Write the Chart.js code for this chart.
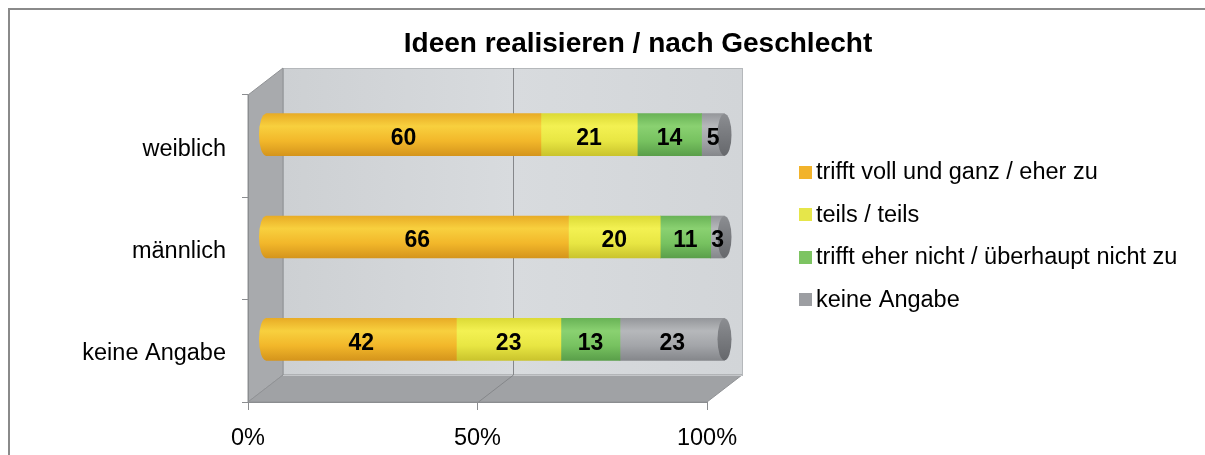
<!DOCTYPE html>
<html>
<head>
<meta charset="utf-8">
<script src="https://cdn.jsdelivr.net/npm/chart.js@4.4.1/dist/chart.umd.min.js"></script>
<style>
html, body { margin: 0; padding: 0; background: #fff; }
#wrap { width: 1205px; height: 455px; }
</style>
</head>
<body>
<div id="wrap"><canvas id="ideen_geschlecht" width="1205" height="455"></canvas></div>
<script>
//(Balken 100%) Ideen realisieren / nach Geschlecht
const chartTitle = 'Ideen realisieren / nach Geschlecht';
const categories = ['weiblich', 'männlich', 'keine Angabe'];
const seriesNames = [
    'trifft voll und ganz / eher zu',
    'teils / teils',
    'trifft eher nicht / überhaupt nicht zu',
    'keine Angabe'
];
const zuValues = [60, 66, 42];
const teilsValues = [21, 20, 23];
const nichtValues = [14, 11, 13];
const keineValues = [5, 3, 23];
const xTickValues = [0, 50, 100];

// colours
const seriesColors = ['#F2B32B', '#E6E64A', '#7DC462', '#9C9EA2'];
const seriesShades = [
    ['#E8AC26', '#F8D03E', '#F2B72A', '#D5951C'],
    ['#DCDA36', '#F3F152', '#E8E643', '#CAC42D'],
    ['#69B356', '#8AD171', '#77C260', '#5A9F4A'],
    ['#95979B', '#B6B8BB', '#A3A5A9', '#85878B']
];

// 3d look
const depthX = 35, depthY = -27;
const capRx = 7;
const barSize = 42;
const frameLeft = 9, frameTop = 9, frameWidth = 1258;
const textSize = 23.5;

Chart.defaults.font.family = '"Liberation Sans", Arial, sans-serif';
Chart.defaults.color = '#000';

const rawSeries = [zuValues, teilsValues, nichtValues, keineValues];
const totals = categories.map((c, i) => rawSeries.reduce((s, arr) => s + arr[i], 0));

function cylinderFill(c, k) {
    let yScale = c.chart.scales.y;
    if (!yScale || c.dataIndex === undefined) return seriesColors[k];
    let cy = yScale.getPixelForValue(c.dataIndex);
    if (!isFinite(cy)) return seriesColors[k];
    let g = c.chart.ctx.createLinearGradient(0, cy - barSize / 2, 0, cy + barSize / 2);
    let s = seriesShades[k];
    g.addColorStop(0, s[0]);
    g.addColorStop(0.3, s[1]);
    g.addColorStop(0.65, s[2]);
    g.addColorStop(1, s[3]);
    return g;
}

let wall3d = {
    id: 'wall3d',
    beforeDraw(chart) {
        let ctx = chart.ctx, a = chart.chartArea, x = chart.scales.x;
        ctx.save();
        ctx.fillStyle = '#fff';
        ctx.fillRect(0, 0, chart.width, chart.height);
        ctx.strokeStyle = '#8A8A8A';
        ctx.lineWidth = 2;
        ctx.strokeRect(frameLeft, frameTop, frameWidth, chart.height);

        // title
        ctx.fillStyle = '#000';
        ctx.font = 'bold 28px "Liberation Sans", Arial, sans-serif';
        ctx.textAlign = 'center';
        ctx.textBaseline = 'middle';
        ctx.fillText(chartTitle, frameLeft + frameWidth / 2, 44);

        // back wall
        let g = ctx.createLinearGradient(a.left + depthX, 0, a.right + depthX, 0);
        g.addColorStop(0, '#CDD0D3');
        g.addColorStop(0.5, '#D8DBDE');
        g.addColorStop(1, '#D2D5D8');
        ctx.fillStyle = g;
        ctx.fillRect(a.left + depthX, a.top + depthY, a.right - a.left, a.bottom - a.top);
        ctx.strokeStyle = '#B5B8BB';
        ctx.lineWidth = 1;
        ctx.strokeRect(a.left + depthX + 0.5, a.top + depthY + 0.5, a.right - a.left, a.bottom - a.top);

        // left wall
        ctx.beginPath();
        ctx.moveTo(a.left, a.top);
        ctx.lineTo(a.left + depthX, a.top + depthY);
        ctx.lineTo(a.left + depthX, a.bottom + depthY);
        ctx.lineTo(a.left, a.bottom);
        ctx.closePath();
        ctx.fillStyle = '#A8AAAD';
        ctx.fill();
        ctx.strokeStyle = '#909295';
        ctx.stroke();

        // floor
        ctx.beginPath();
        ctx.moveTo(a.left, a.bottom);
        ctx.lineTo(a.left + depthX, a.bottom + depthY);
        ctx.lineTo(a.right + depthX, a.bottom + depthY);
        ctx.lineTo(a.right, a.bottom);
        ctx.closePath();
        ctx.fillStyle = '#A0A2A5';
        ctx.fill();
        ctx.strokeStyle = '#909295';
        ctx.stroke();
        ctx.strokeStyle = '#C4C6C9';
        ctx.beginPath();
        ctx.moveTo(a.left + depthX, a.bottom + depthY + 0.5);
        ctx.lineTo(a.right + depthX, a.bottom + depthY + 0.5);
        ctx.stroke();

        // grid on back wall and floor
        ctx.strokeStyle = '#85878A';
        x.ticks.forEach(t => {
            let px = Math.round(x.getPixelForValue(t.value)) + 0.5;
            if (t.value === x.min || t.value === x.max) return;
            ctx.beginPath();
            ctx.moveTo(px + depthX, a.top + depthY);
            ctx.lineTo(px + depthX, a.bottom + depthY);
            ctx.moveTo(px, a.bottom);
            ctx.lineTo(px + depthX, a.bottom + depthY);
            ctx.stroke();
        });
        ctx.restore();
    },
    beforeDatasetsDraw(chart) {
        chart.ctx.save();
        chart.ctx.translate(depthX / 2, depthY / 2 + 2);
    },
    afterDatasetsDraw(chart) {
        let ctx = chart.ctx;
        let n = chart.data.datasets.length;
        let first = chart.getDatasetMeta(0).data;
        let last = chart.getDatasetMeta(n - 1).data;
        first.forEach(bar => {
            let h = bar.height / 2;
            ctx.beginPath();
            ctx.ellipse(bar.base, bar.y, capRx, h, 0, Math.PI / 2, Math.PI * 1.5);
            ctx.closePath();
            ctx.fillStyle = bar.options.backgroundColor;
            ctx.fill();
        });
        last.forEach(bar => {
            let h = bar.height / 2;
            let g = ctx.createLinearGradient(0, bar.y - h, 0, bar.y + h);
            g.addColorStop(0, '#8C8E92');
            g.addColorStop(0.4, '#7C7E82');
            g.addColorStop(1, '#66686C');
            ctx.beginPath();
            ctx.ellipse(bar.x, bar.y, capRx, h, 0, 0, Math.PI * 2);
            ctx.fillStyle = g;
            ctx.fill();
        });
        // value labels
        ctx.fillStyle = '#000';
        ctx.font = 'bold 23px "Liberation Sans", Arial, sans-serif';
        ctx.textAlign = 'center';
        ctx.textBaseline = 'middle';
        chart.data.datasets.forEach((ds, k) => {
            chart.getDatasetMeta(k).data.forEach((bar, i) => {
                ctx.fillText(String(ds.raw[i]), (bar.x + bar.base) / 2, bar.y + 4);
            });
        });
        ctx.restore();
    },
    afterDraw(chart) {
        let ctx = chart.ctx;
        ctx.save();
        ctx.font = textSize + 'px "Liberation Sans", Arial, sans-serif';
        ctx.textAlign = 'left';
        ctx.textBaseline = 'middle';
        chart.data.datasets.forEach((ds, k) => {
            let cy = 171.5 + k * 42.6;
            ctx.fillStyle = seriesColors[k];
            ctx.fillRect(799, Math.round(cy - 6), 13, 13);
            ctx.fillStyle = '#000';
            ctx.fillText(ds.label, 816, cy + 1);
        });
        ctx.restore();
    }
};

let data = {
    labels: categories,
    datasets: rawSeries.map((vals, k) => ({
        label: seriesNames[k],
        data: vals.map((v, i) => v / totals[i] * 100),
        raw: vals,
        backgroundColor: c => cylinderFill(c, k),
        borderWidth: 0,
        barThickness: barSize,
        clip: false
    }))
};

let config = {
    type: 'bar',
    data: data,
    options: {
        indexAxis: 'y',
        responsive: false,
        animation: false,
        layout: { padding: { top: 95, right: 498, left: 0, bottom: 0 } },
        plugins: {
            legend: { display: false },
            title: { display: false },
            tooltip: { enabled: false }
        },
        scales: {
            x: {
                stacked: true,
                min: 0,
                max: 100,
                afterFit(s) { s.height = 53; },
                afterBuildTicks(s) { s.ticks = xTickValues.map(v => ({ value: v })); },
                grid: { drawOnChartArea: false, tickLength: 8, color: '#8B8D90' },
                border: { color: '#8B8D90' },
                ticks: { padding: 14, maxRotation: 0, font: { size: textSize }, callback: v => v + '%' }
            },
            y: {
                stacked: true,
                afterFit(s) { s.width = 248; },
                grid: { drawOnChartArea: false, tickLength: 6, color: '#8B8D90', offset: true },
                border: { color: '#8B8D90' },
                ticks: { padding: 16, labelOffset: 3, font: { size: textSize } }
            }
        }
    },
    plugins: [wall3d]
};

let ideen_chart = new Chart(document.getElementById('ideen_geschlecht'), config);
</script>
</body>
</html>
